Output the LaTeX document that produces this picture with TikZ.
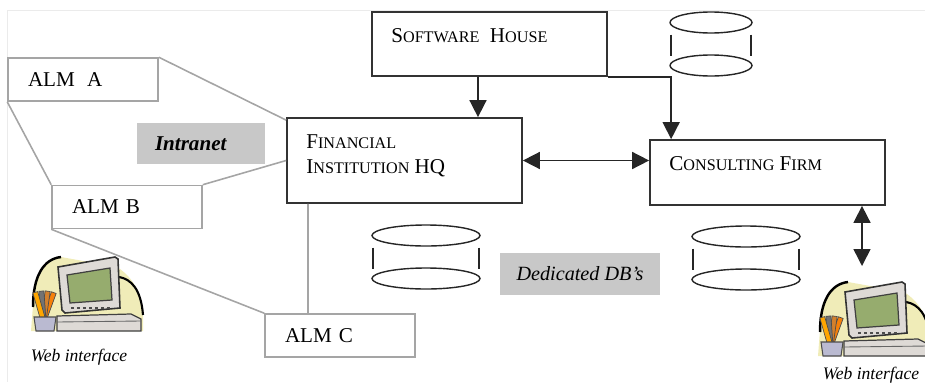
\documentclass[tikz,border=0pt]{standalone}
\usepackage{fontspec}
\setmainfont{Liberation Serif}
\usetikzlibrary{arrows.meta, positioning}

\definecolor{linkgray}{RGB}{165,165,165}
\definecolor{tagfill}{RGB}{200,200,200}
\definecolor{screengreen}{RGB}{150,172,110}
\definecolor{blobyellow}{RGB}{240,236,184}
\definecolor{casegray}{RGB}{222,218,214}

% poor man's small capitals
\newcommand\smallcaps[1]{{\fontsize{9.2}{11}\selectfont #1}}

\tikzset{
  pics/dbstack/.style={code={
    \draw [dbline] (0,0) ellipse [x radius=#1, y radius=10.5];
    \draw [dbline] (0,43) ellipse [x radius=#1, y radius=10.5];
    \draw [dbline] (-#1+1,12) -- (-#1+1,33);
    \draw [dbline] (#1-1,12) -- (#1-1,33);
  }},
  pics/webpc/.style={code={
    % backdrop
    \fill [blobyellow] (6,76) -- (8,50) .. controls (8,22) and (18,4) .. (36,2) -- (92,12) .. controls (108,22) and (118,40) .. (118,60) -- (118,76) -- cycle;
    \draw [line width=1.4pt] (8,52) .. controls (8,22) and (18,4) .. (36,2);
    \draw [line width=1.2pt] (94,22) .. controls (106,24) and (116,34) .. (118,60);
    % monitor
    \filldraw [fill=casegray, draw=black!80, line width=0.9pt] (33,12) -- (90,2) -- (93,4) -- (95,53) -- (40,58) -- (37,55) -- cycle;
    \filldraw [fill=screengreen, draw=black!75, line width=0.7pt] (42,20) -- (85,13) -- (87,45) -- (45,48) -- cycle;
    \foreach \v in {0,...,6}
      \draw [black!70, line width=0.6pt] (46+6*\v,53) -- (49+6*\v,53);
    % base unit
    \filldraw [fill=casegray, draw=black!75, line width=0.7pt] (32,61) -- (106,59) -- (116,64) -- (116,76) -- (32,76) -- cycle;
    \draw [black!60, line width=0.5pt] (32,67) -- (116,66);
    % pencil cup
    \foreach \a/\c in {-20/orange!85!brown, -8/brown!70!orange, 4/black!55, 16/orange!70!yellow}
      \filldraw [fill=\c, draw=black!70, line width=0.4pt, rotate around={\a:(19,66)}] (16,66) rectangle (21,36);
    \filldraw [fill=blue!20!gray!45, draw=black!70, line width=0.6pt] (9,62) -- (31,62) -- (29,76) -- (11,76) -- cycle;
  }}
}

\begin{document}
\begin{tikzpicture}[x=0.02cm, y=-0.02cm,
  every text node part/.style={align=left},
  firm/.style={draw=black!80, line width=1pt, shape=rectangle, minimum width=4.7cm},
  firmtext/.style={inner sep=0pt, font=\fontsize{12}{14.4}\selectfont},
  almbox/.style={draw=linkgray, line width=0.9pt, shape=rectangle, minimum width=3cm, minimum height=0.86cm, text width=2.2cm, inner xsep=0.4cm, font=\fontsize{12}{14}\selectfont},
  tag/.style={fill=tagfill, shape=rectangle, minimum height=0.84cm, font=\fontsize{11.5}{14}\selectfont\itshape},
  link/.style={draw=linkgray, line width=0.9pt},
  arr/.style={-{Triangle[length=0.34cm,width=0.34cm]}, line width=0.9pt, black!85},
  dblarr/.style={{Triangle[length=0.34cm,width=0.34cm]}-{Triangle[length=0.34cm,width=0.34cm]}, line width=0.9pt, black!85},
  webtext/.style={inner sep=0pt, font=\fontsize{10}{12}\selectfont\itshape},
  dbline/.style={draw=black!85, line width=0.8pt}]
\useasboundingbox (0,0) rectangle (925,382);
\draw [black!8] (7,382) -- (7,10) -- (925,10);

% firms
\node [firm, minimum height=1.28cm] (swhouse) at (489.5,44) {};
\node [firmtext, anchor=base west] (swhouse-text) at (391,42) {S\smallcaps{OFTWARE}\ \ H\smallcaps{OUSE}};
\node [firm, minimum height=1.7cm] (hq) at (404.5,160.5) {};
\node [firmtext, anchor=north west] (hq-text) at (306,134) {F\smallcaps{INANCIAL}\\I\smallcaps{NSTITUTION} HQ};
\node [firm, minimum height=1.3cm] (consult) at (767.5,172.5) {};
\node [firmtext, anchor=base west] (consult-text) at (669,170) {C\smallcaps{ONSULTING} F\smallcaps{IRM}};

% ALM units
\node [almbox] (alma) at (83,79.5) {ALM\hspace{7pt}A};
\node [almbox] (almb) at (127,207) {ALM B};
\node [almbox] (almc) at (340,335.5) {ALM C};

\node [tag, minimum width=2.56cm, text width=1.84cm, inner xsep=0.36cm, font=\fontsize{12}{14}\selectfont\bfseries\itshape] (intranet) at (201,143.5) {Intranet};
\node [tag, minimum width=3.2cm] (dedicated) at (580,273.5) {Dedicated DB’s};

% databases
\pic at (711,22.5) {dbstack=41};
\pic at (426,235.5) {dbstack=54};
\pic at (746,236.5) {dbstack=54};

% web clients
\pic at (25,255) {webpc};
\pic at (812,280) {webpc};
\node [webtext] (webl-text) at (79,357) {Web interface};
\node [webtext] (webr-text) at (871,375) {Web interface};
\coordinate (webr-top) at (862,266);

% intranet links
\draw [link] (alma.north east) -- ([yshift=-0.06cm]hq.north west);
\draw [link] (alma.south west) -- (almb.north west);
\draw [link] (almb.north east) -- (hq.west);
\draw [link] (almb.south west) -- (almc.north west);
\draw [link] ([xshift=-1.93cm]hq.south) -- ([xshift=-0.64cm]almc.north);

% data flow
\draw [arr] ([xshift=-0.23cm]swhouse.south) -- ([xshift=1.47cm]hq.north);
\draw [arr] (swhouse.south east) -| ([xshift=0.44cm]consult.north west);
\draw [dblarr] (hq.east) -- (hq.east -| consult.west);
\draw [dblarr] (consult.south -| webr-top) -- (webr-top);
\end{tikzpicture}
\end{document}
